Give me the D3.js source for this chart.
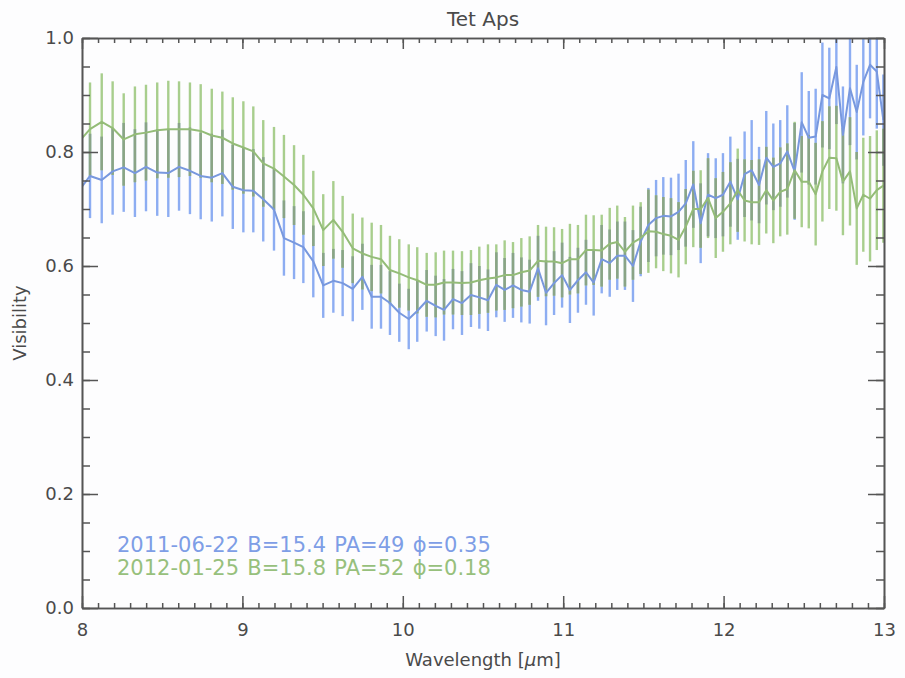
<!DOCTYPE html>
<html>
<head>
<meta charset="utf-8">
<script src="https://cdn.jsdelivr.net/npm/d3@7/dist/d3.min.js"></script>
<style>
  html, body { margin: 0; padding: 0; background: #ffffff; }
  svg { display: block; }
  text { font-family: "DejaVu Sans", sans-serif; fill: #4a4a4a; }
</style>
</head>
<body>
<script>
// Spectral channels (µm)
const wavelength = [
  7.981, 8.050, 8.123, 8.191, 8.260, 8.330, 8.399, 8.469, 8.538, 8.605,
  8.673, 8.740, 8.809, 8.875, 8.940, 9.006, 9.068, 9.130, 9.197, 9.259,
  9.322, 9.380, 9.442, 9.504, 9.567, 9.625, 9.688, 9.748, 9.806, 9.864,
  9.920, 9.978, 10.037, 10.090, 10.149, 10.205, 10.257, 10.313, 10.369, 10.425,
  10.477, 10.531, 10.583, 10.635, 10.687, 10.739, 10.791, 10.843, 10.893, 10.943,
  10.993, 11.042, 11.092, 11.142, 11.190, 11.240, 11.290, 11.337, 11.385, 11.435,
  11.483, 11.531, 11.579, 11.624, 11.672, 11.719, 11.764, 11.811, 11.857, 11.903,
  11.951, 11.996, 12.042, 12.088, 12.131, 12.175, 12.221, 12.266, 12.310, 12.353,
  12.397, 12.443, 12.487, 12.531, 12.574, 12.616, 12.659, 12.703, 12.744, 12.788,
  12.830, 12.871, 12.913, 12.955, 12.996
];

// 2011-06-22 observation
const vis2011 = [
  0.732, 0.758, 0.751, 0.766, 0.773, 0.763, 0.774, 0.764, 0.763, 0.774,
  0.767, 0.758, 0.755, 0.763, 0.739, 0.733, 0.732, 0.717, 0.699, 0.649,
  0.641, 0.633, 0.608, 0.566, 0.574, 0.570, 0.560, 0.581, 0.546, 0.546,
  0.535, 0.518, 0.507, 0.521, 0.539, 0.530, 0.523, 0.542, 0.535, 0.549,
  0.545, 0.540, 0.567, 0.558, 0.566, 0.558, 0.555, 0.596, 0.553, 0.570,
  0.584, 0.558, 0.575, 0.589, 0.571, 0.612, 0.605, 0.618, 0.618, 0.600,
  0.643, 0.672, 0.684, 0.688, 0.687, 0.695, 0.710, 0.743, 0.675, 0.725,
  0.719, 0.725, 0.748, 0.717, 0.761, 0.768, 0.742, 0.790, 0.774, 0.780,
  0.801, 0.766, 0.852, 0.825, 0.827, 0.900, 0.894, 0.949, 0.830, 0.912,
  0.870, 0.923, 0.953, 0.941, 0.856
];
const err2011 = [
  0.074, 0.074, 0.076, 0.076, 0.078, 0.077, 0.078, 0.076, 0.077, 0.077,
  0.076, 0.076, 0.077, 0.076, 0.074, 0.074, 0.073, 0.074, 0.072, 0.066,
  0.064, 0.063, 0.063, 0.057, 0.056, 0.058, 0.057, 0.058, 0.056, 0.056,
  0.056, 0.051, 0.053, 0.054, 0.054, 0.053, 0.054, 0.053, 0.056, 0.056,
  0.055, 0.054, 0.057, 0.056, 0.057, 0.057, 0.056, 0.057, 0.057, 0.056,
  0.057, 0.058, 0.057, 0.057, 0.058, 0.060, 0.059, 0.060, 0.060, 0.063,
  0.061, 0.065, 0.067, 0.068, 0.068, 0.067, 0.076, 0.076, 0.070, 0.073,
  0.070, 0.073, 0.079, 0.071, 0.075, 0.088, 0.067, 0.082, 0.076, 0.076,
  0.081, 0.085, 0.088, 0.082, 0.084, 0.092, 0.089, 0.100, 0.085, 0.100,
  0.083, 0.094, 0.094, 0.100, 0.080
];

// 2012-01-25 observation
const vis2012 = [
  0.818, 0.840, 0.853, 0.842, 0.822, 0.831, 0.834, 0.838, 0.840, 0.840,
  0.840, 0.837, 0.829, 0.825, 0.815, 0.808, 0.801, 0.780, 0.771, 0.757,
  0.742, 0.725, 0.701, 0.663, 0.681, 0.660, 0.631, 0.622, 0.616, 0.612,
  0.593, 0.587, 0.580, 0.575, 0.567, 0.567, 0.571, 0.571, 0.570, 0.571,
  0.575, 0.578, 0.580, 0.584, 0.584, 0.589, 0.592, 0.609, 0.608, 0.608,
  0.605, 0.612, 0.612, 0.628, 0.628, 0.627, 0.639, 0.642, 0.625, 0.641,
  0.649, 0.661, 0.660, 0.656, 0.653, 0.646, 0.669, 0.700, 0.700, 0.719,
  0.684, 0.695, 0.710, 0.733, 0.715, 0.712, 0.712, 0.733, 0.715, 0.730,
  0.735, 0.768, 0.748, 0.748, 0.726, 0.766, 0.790, 0.789, 0.748, 0.766,
  0.701, 0.725, 0.718, 0.733, 0.741
];
const err2012 = [
  0.082, 0.082, 0.085, 0.082, 0.081, 0.084, 0.084, 0.084, 0.085, 0.084,
  0.082, 0.082, 0.082, 0.081, 0.081, 0.081, 0.079, 0.076, 0.073, 0.073,
  0.070, 0.070, 0.066, 0.063, 0.068, 0.063, 0.061, 0.063, 0.060, 0.060,
  0.060, 0.060, 0.058, 0.058, 0.056, 0.057, 0.056, 0.056, 0.056, 0.057,
  0.059, 0.060, 0.058, 0.061, 0.058, 0.060, 0.060, 0.063, 0.061, 0.060,
  0.060, 0.062, 0.060, 0.062, 0.061, 0.063, 0.063, 0.064, 0.061, 0.065,
  0.063, 0.073, 0.064, 0.065, 0.066, 0.066, 0.066, 0.067, 0.068, 0.070,
  0.070, 0.070, 0.072, 0.073, 0.072, 0.074, 0.075, 0.076, 0.075, 0.078,
  0.080, 0.085, 0.080, 0.082, 0.090, 0.088, 0.090, 0.092, 0.094, 0.095,
  0.099, 0.100, 0.110, 0.105, 0.100
];

const legendLines = [
  "2011-06-22 B=15.4 PA=49 \u03D5=0.35",
  "2012-01-25 B=15.8 PA=52 \u03D5=0.18"
];
const xTickValues = [8, 9, 10, 11, 12, 13];
const yTickValues = [0.0, 0.2, 0.4, 0.6, 0.8, 1.0];

const W = 905, H = 678;
const margin = { left: 82, right: 21, top: 38, bottom: 70 };
const iw = W - margin.left - margin.right;
const ih = H - margin.top - margin.bottom;

const colors = {
  line2011: "#7898de", bar2011: "#8dadf2",
  line2012: "#94bc78", bar2012: "#a8ce8d",
  overlap: "#8aa486",
  text2011: "#7e9ee6", text2012: "#97c07c",
  axis: "#555555"
};

const x = d3.scaleLinear().domain([8, 13]).range([0, iw]);
const y = d3.scaleLinear().domain([0, 1]).range([ih, 0]);

const svg = d3.select("body").append("svg").attr("width", W).attr("height", H);
svg.append("rect").attr("width", W).attr("height", H).attr("fill", "#fdfdfe");

const g = svg.append("g").attr("transform", `translate(${margin.left},${margin.top})`);

g.append("defs").append("clipPath").attr("id", "plot-clip")
  .append("rect").attr("width", iw).attr("height", ih);

const series = [
  { vis: vis2011, err: err2011, line: colors.line2011, bar: colors.bar2011 },
  { vis: vis2012, err: err2012, line: colors.line2012, bar: colors.bar2012 }
];

const plot = g.append("g").attr("clip-path", "url(#plot-clip)");

// error bars of each date
series.forEach(s => {
  plot.append("g")
    .selectAll("line")
    .data(wavelength.map((w, i) => ({ w, v: s.vis[i], e: s.err[i] })))
    .join("line")
    .attr("x1", d => x(d.w)).attr("x2", d => x(d.w))
    .attr("y1", d => y(d.v - d.e)).attr("y2", d => y(d.v + d.e))
    .attr("stroke", s.bar).attr("stroke-width", 2.4);
});

// common span where both error bars cover the same range
const shared = wavelength.map((w, i) => ({
  w,
  lo: Math.max(vis2011[i] - err2011[i], vis2012[i] - err2012[i]),
  hi: Math.min(vis2011[i] + err2011[i], vis2012[i] + err2012[i])
})).filter(d => d.hi > d.lo);
plot.append("g")
  .selectAll("line")
  .data(shared)
  .join("line")
  .attr("x1", d => x(d.w)).attr("x2", d => x(d.w))
  .attr("y1", d => y(d.lo)).attr("y2", d => y(d.hi))
  .attr("stroke", colors.overlap).attr("stroke-width", 2.4);

// visibility curves
series.forEach(s => {
  const line = d3.line().x((d, i) => x(wavelength[i])).y(d => y(d));
  plot.append("path").datum(s.vis)
    .attr("d", line).attr("fill", "none")
    .attr("stroke", s.line).attr("stroke-width", 2)
    .attr("stroke-linejoin", "round");
});

// axes: major and minor ticks on all four sides
const xMinor = d3.range(8, 13.0001, 0.1);
const yMinor = d3.range(0, 1.0001, 0.05);

function styleAxis(sel) {
  sel.select(".domain").attr("stroke", colors.axis).attr("stroke-width", 1.6);
  sel.selectAll(".tick line").attr("stroke", colors.axis).attr("stroke-width", 1.5);
  sel.selectAll(".tick text").attr("font-size", 18).attr("fill", "#4a4a4a")
    .attr("font-family", "DejaVu Sans, sans-serif");
}

// bottom
g.append("g").attr("transform", `translate(0,${ih})`)
  .call(d3.axisBottom(x).tickValues(xMinor).tickSize(-5).tickFormat("").tickSizeOuter(0))
  .call(styleAxis);
g.append("g").attr("transform", `translate(0,${ih})`)
  .call(d3.axisBottom(x).tickValues(xTickValues).tickSize(-12).tickPadding(15)
    .tickFormat(d3.format("d")).tickSizeOuter(0))
  .call(styleAxis);
// top
g.append("g")
  .call(d3.axisTop(x).tickValues(xMinor).tickSize(-5).tickFormat("").tickSizeOuter(0))
  .call(styleAxis);
g.append("g")
  .call(d3.axisTop(x).tickValues(xTickValues).tickSize(-11).tickFormat("").tickSizeOuter(0))
  .call(styleAxis);
// left
g.append("g")
  .call(d3.axisLeft(y).tickValues(yMinor).tickSize(-8).tickFormat("").tickSizeOuter(0))
  .call(styleAxis);
g.append("g")
  .call(d3.axisLeft(y).tickValues(yTickValues).tickSize(-16).tickPadding(8)
    .tickFormat(d3.format(".1f")).tickSizeOuter(0))
  .call(styleAxis);
// right
g.append("g").attr("transform", `translate(${iw},0)`)
  .call(d3.axisRight(y).tickValues(yMinor).tickSize(-8).tickFormat("").tickSizeOuter(0))
  .call(styleAxis);
g.append("g").attr("transform", `translate(${iw},0)`)
  .call(d3.axisRight(y).tickValues(yTickValues).tickSize(-16).tickFormat("").tickSizeOuter(0))
  .call(styleAxis);

// title and axis titles
svg.append("text")
  .attr("x", margin.left + iw / 2).attr("y", 26)
  .attr("text-anchor", "middle").attr("font-size", 20)
  .text("Tet Aps");

const xt = svg.append("text")
  .attr("x", margin.left + iw / 2).attr("y", 666)
  .attr("text-anchor", "middle").attr("font-size", 18);
xt.append("tspan").text("Wavelength [");
xt.append("tspan").attr("font-style", "italic").text("\u03BC");
xt.append("tspan").text("m]");

svg.append("text")
  .attr("transform", `translate(26,${margin.top + ih / 2}) rotate(-90)`)
  .attr("text-anchor", "middle").attr("font-size", 18)
  .text("Visibility");

// observation labels
const legendColors = [colors.text2011, colors.text2012];
legendLines.forEach((t, i) => {
  svg.append("text")
    .attr("x", 117).attr("y", 552 + i * 22.6)
    .attr("font-size", 21)
    .attr("word-spacing", 1.6)
    .style("fill", legendColors[i])
    .text(t);
});
</script>
</body>
</html>
